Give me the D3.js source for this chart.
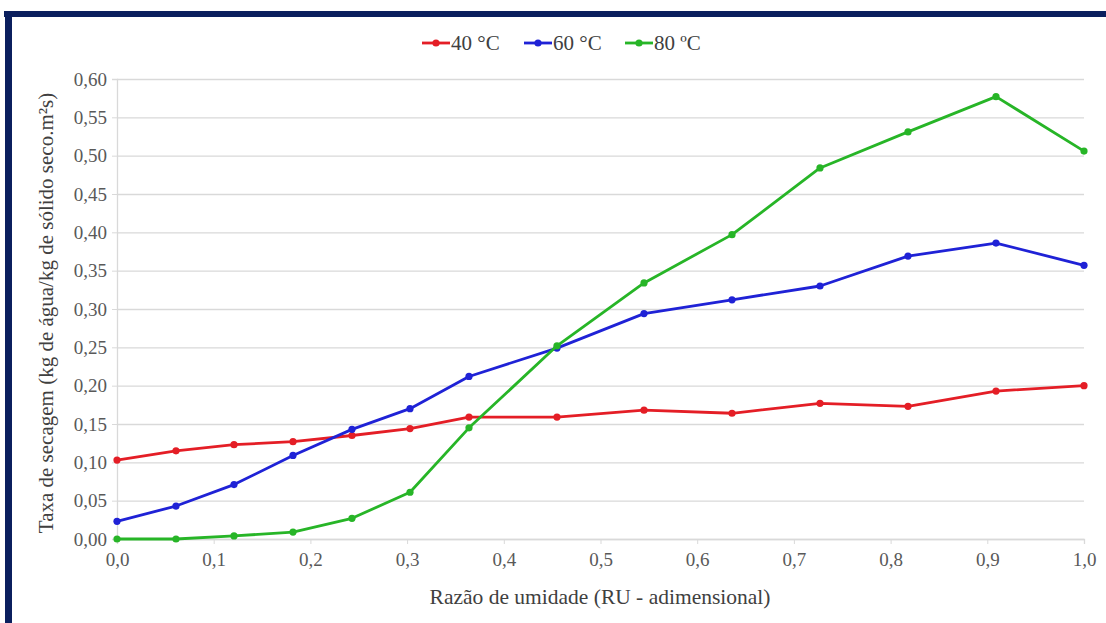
<!DOCTYPE html>
<html><head><meta charset="utf-8">
<script src="https://cdn.jsdelivr.net/npm/d3@7/dist/d3.min.js"></script>
<style>
body{margin:0;background:#fff;}
svg text{font-family:"Liberation Serif","Times New Roman",Tinos,"DejaVu Serif",serif !important;}
</style>
</head><body>
<svg id="c" width="1106" height="623"></svg>
<script>
// ---- data ----
const xValues   = [0, 0.061, 0.121, 0.182, 0.243, 0.303, 0.364, 0.455, 0.545, 0.636, 0.727, 0.818, 0.909, 1.0];
const series40  = [0.103, 0.115, 0.123, 0.127, 0.135, 0.144, 0.159, 0.159, 0.168, 0.164, 0.177, 0.173, 0.193, 0.200];
const series60  = [0.023, 0.043, 0.071, 0.109, 0.143, 0.170, 0.212, 0.249, 0.294, 0.312, 0.330, 0.369, 0.386, 0.357];
const series80  = [0.000, 0.000, 0.004, 0.009, 0.027, 0.061, 0.145, 0.252, 0.334, 0.397, 0.484, 0.531, 0.577, 0.506];
const seriesNames = ["40 °C", "60 °C", "80 ºC"];
const seriesColors = ["#e41e26", "#1f22d6", "#27b527"];
const yTicks = [0, 0.05, 0.10, 0.15, 0.20, 0.25, 0.30, 0.35, 0.40, 0.45, 0.50, 0.55, 0.60];
const xTicks = [0, 0.1, 0.2, 0.3, 0.4, 0.5, 0.6, 0.7, 0.8, 0.9, 1.0];
const xTitle = "Razão de umidade (RU - adimensional)";
const yTitle = "Taxa de secagem  (kg de água/kg de sólido seco.m²s)";

const allSeries = [series40, series60, series80];

const W = 1106, H = 623;
const m = {left: 117, right: 1106 - 1084, top: 79, bottom: 623 - 539};
const svg = d3.select("#c");

// frame
svg.append("rect").attr("x", 0).attr("y", 0).attr("width", W).attr("height", H).attr("fill", "#fff");
svg.append("rect").attr("x", 4).attr("y", 11).attr("width", W - 4).attr("height", 6).attr("fill", "#0b1f5e");
svg.append("rect").attr("x", 5).attr("y", 11).attr("width", 7).attr("height", H - 11).attr("fill", "#0b1f5e");

const x = d3.scaleLinear().domain([0, 1]).range([m.left, W - m.right]);
const y = d3.scaleLinear().domain([0, 0.6]).range([H - m.bottom, m.top]);
const fmt = (d, n) => d.toFixed(n).replace(".", ",");

// grid
const grid = svg.append("g").attr("transform", `translate(${m.left},0)`)
  .call(d3.axisLeft(y).tickValues(yTicks).tickSize(-(W - m.right - m.left)).tickFormat(""));
grid.select(".domain").remove();
grid.selectAll("line").attr("stroke", "#d9d9d9").attr("stroke-width", 1.3);

// y axis
const ya = svg.append("g").attr("transform", `translate(${m.left},0)`)
  .call(d3.axisLeft(y).tickValues(yTicks).tickSize(5).tickPadding(5).tickFormat(d => fmt(d, 2)));
ya.select(".domain").attr("stroke", "#d9d9d9").attr("stroke-width", 1.3);
ya.selectAll("line").attr("stroke", "#d9d9d9");
ya.selectAll("text").attr("font-size", 19).attr("fill", "#595959");

// x axis
const xa = svg.append("g").attr("transform", `translate(0,${H - m.bottom})`)
  .call(d3.axisBottom(x).tickValues(xTicks).tickSize(5).tickPadding(9).tickFormat(d => fmt(d, 1)));
xa.select(".domain").attr("stroke", "#d9d9d9").attr("stroke-width", 1.3);
xa.selectAll("line").attr("stroke", "#d9d9d9");
xa.selectAll("text").attr("font-size", 19).attr("fill", "#595959");

// titles
svg.append("text").attr("x", 600).attr("y", 604)
  .attr("text-anchor", "middle").attr("font-size", 21.5).attr("fill", "#404040").text(xTitle);
svg.append("text").attr("transform", `translate(53,${(m.top + H - m.bottom) / 2 + 4}) rotate(-90)`)
  .attr("text-anchor", "middle").attr("font-size", 21).attr("fill", "#404040").text(yTitle);

// lines
const line = d3.line().x((d, i) => x(xValues[i])).y(d => y(d));
allSeries.forEach((s, k) => {
  svg.append("path").datum(s).attr("d", line).attr("fill", "none")
    .attr("stroke", seriesColors[k]).attr("stroke-width", 2.8).attr("stroke-linejoin", "round");
  svg.append("g").selectAll("circle").data(s).join("circle")
    .attr("cx", (d, i) => x(xValues[i])).attr("cy", d => y(d)).attr("r", 3.6)
    .attr("fill", seriesColors[k]);
});

// legend
const legX = [422, 524, 625];
const lg = svg.append("g");
seriesNames.forEach((n, k) => {
  const g = lg.append("g").attr("transform", `translate(${legX[k]},43)`);
  g.append("line").attr("x1", 0).attr("x2", 28).attr("y1", 0).attr("y2", 0)
    .attr("stroke", seriesColors[k]).attr("stroke-width", 2.8);
  g.append("circle").attr("cx", 14).attr("cy", 0).attr("r", 3.6).attr("fill", seriesColors[k]);
  g.append("text").attr("x", 29).attr("y", 7).attr("font-size", 21).attr("fill", "#404040").text(n);
});
</script>
</body></html>
